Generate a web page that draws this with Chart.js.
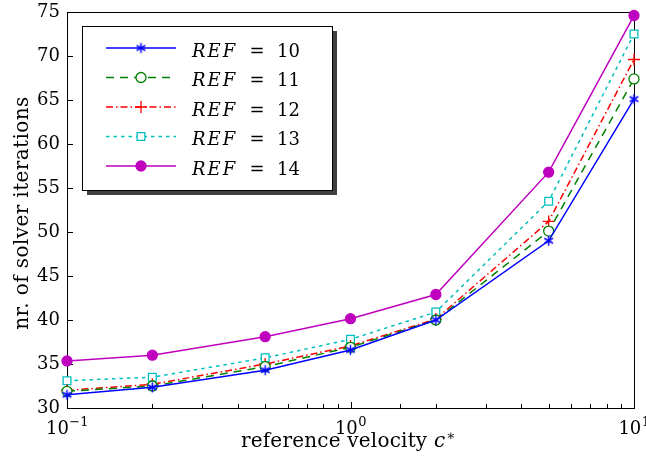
<!DOCTYPE html>
<html>
<head>
<meta charset="utf-8">
<script src="https://cdn.jsdelivr.net/npm/chart.js@4.4.1/dist/chart.umd.min.js"></script>
<style>
  html, body { margin: 0; padding: 0; background: #fff; }
  #wrap { width: 646px; height: 465px; }
</style>
</head>
<body>
<div id="wrap"><canvas id="chart" width="646" height="465"></canvas></div>
<script>
// data
const velocities = [0.1, 0.2, 0.5, 1, 2, 5, 10];
const ref10 = [31.5, 32.35, 34.3, 36.6, 40.0, 49.0, 65.1];
const ref11 = [31.9, 32.5, 34.7, 36.9, 40.0, 50.1, 67.4];
const ref12 = [32.0, 32.7, 35.0, 37.05, 40.1, 51.2, 69.6];
const ref13 = [33.1, 33.5, 35.7, 37.8, 40.9, 53.5, 72.5];
const ref14 = [35.35, 36.0, 38.1, 40.15, 42.9, 56.8, 74.6];
const refLabels = ['10', '11', '12', '13', '14'];
const xMajor = [0.1, 1, 10];
const xExponents = ['\u22121', '0', '1'];

const FONT = '"DejaVu Serif", "Liberation Serif", serif';

// asterisk marker (6 spokes)
function makeAsterisk(color) {
    const c = document.createElement('canvas');
    c.width = 13; c.height = 13;
    const g = c.getContext('2d');
    g.strokeStyle = color;
    g.lineWidth = 1.5;
    for (let i = 0; i < 3; i++) {
        const a = Math.PI / 2 + i * Math.PI / 3;
        g.beginPath();
        g.moveTo(6.5 - 5 * Math.cos(a), 6.5 - 5 * Math.sin(a));
        g.lineTo(6.5 + 5 * Math.cos(a), 6.5 + 5 * Math.sin(a));
        g.stroke();
    }
    return c;
}

function toPoints(values) {
    return values.map((v, i) => ({ x: velocities[i], y: v }));
}

const series = [ref10, ref11, ref12, ref13, ref14];
const styles = [
    { color: '#0000ff', dash: [], point: makeAsterisk('#0000ff'), radius: 5, fill: '#0000ff' },
    { color: '#008000', dash: [8, 6], point: 'circle', radius: 5, fill: '#ffffff' },
    { color: '#ff0000', dash: [7, 3, 1.5, 3], point: 'cross', radius: 6, fill: '#ff0000' },
    { color: '#00bfbf', dash: [3.5, 4], point: 'rect', radius: 5.5, fill: '#ffffff' },
    { color: '#bf00bf', dash: [], point: 'circle', radius: 5, fill: '#bf00bf' }
];

const datasets = series.map((vals, i) => ({
    label: 'REF = ' + refLabels[i],
    data: toPoints(vals),
    borderColor: styles[i].color,
    backgroundColor: styles[i].fill,
    borderWidth: 1.5,
    borderDash: styles[i].dash,
    pointStyle: styles[i].point,
    pointRadius: styles[i].radius,
    pointBorderWidth: 1.3,
    pointBorderColor: styles[i].color,
    pointBackgroundColor: styles[i].fill,
    tension: 0,
    clip: false
}));

function spaced(ctx, px) {
    if ('letterSpacing' in ctx) ctx.letterSpacing = px + 'px';
}

// frame, ticks, tick labels, titles and legend
const decorations = {
    id: 'decorations',
    beforeDatasetsDraw(chart) {
        const { ctx, chartArea: a, scales } = chart;
        ctx.save();
        ctx.strokeStyle = '#000';
        ctx.lineWidth = 1;
        ctx.strokeRect(a.left + 0.5, a.top + 0.5, a.right - a.left, a.bottom - a.top);
        // x ticks (inward)
        scales.x.ticks.forEach(t => {
            const px = Math.round(scales.x.getPixelForValue(t.value)) + 0.5;
            const major = xMajor.some(m => Math.abs(m - t.value) < 1e-9);
            const len = major ? 6 : 4;
            ctx.beginPath();
            ctx.moveTo(px, a.bottom);
            ctx.lineTo(px, a.bottom - len);
            ctx.stroke();
        });
        // y ticks (inward)
        scales.y.ticks.forEach(t => {
            const py = Math.round(scales.y.getPixelForValue(t.value)) + 0.5;
            ctx.beginPath();
            ctx.moveTo(a.left, py);
            ctx.lineTo(a.left + 6, py);
            ctx.stroke();
        });
        ctx.restore();
    },
    afterDraw(chart) {
        const { ctx, chartArea: a, scales } = chart;
        ctx.save();
        ctx.fillStyle = '#000';
        ctx.textBaseline = 'alphabetic';
        ctx.textAlign = 'left';
        // x tick labels 10^n
        xMajor.forEach((v, i) => {
            const px = scales.x.getPixelForValue(v);
            ctx.font = '18px ' + FONT;
            const wb = ctx.measureText('10').width;
            ctx.font = '13px ' + FONT;
            const we = ctx.measureText(xExponents[i]).width;
            const x0 = px - (wb + we) / 2;
            ctx.font = '18px ' + FONT;
            ctx.fillText('10', x0, 434);
            ctx.font = '13px ' + FONT;
            ctx.fillText(xExponents[i], x0 + wb + 0.5, 426);
        });
        // x title
        ctx.save();
        spaced(ctx, 0.2);
        const t1 = 'reference velocity ';
        ctx.font = '20px ' + FONT;
        const w1 = ctx.measureText(t1).width;
        ctx.font = 'italic 20px ' + FONT;
        const w2 = ctx.measureText('c').width;
        ctx.font = '14px ' + FONT;
        const w3 = ctx.measureText('\u2217').width;
        let x = 348 - (w1 + w2 + w3) / 2;
        ctx.font = '20px ' + FONT;
        ctx.fillText(t1, x, 447);
        x += w1;
        ctx.font = 'italic 20px ' + FONT;
        ctx.fillText('c', x, 447);
        x += w2 + 1;
        ctx.font = '14px ' + FONT;
        ctx.fillText('\u2217', x, 440);
        ctx.restore();

        // y title (rotated)
        ctx.save();
        ctx.translate(28, 213);
        ctx.rotate(-Math.PI / 2);
        ctx.textAlign = 'center';
        ctx.font = '20px ' + FONT;
        spaced(ctx, 0.4);
        ctx.fillText('nr. of solver iterations', 0, 0);
        ctx.restore();

        // legend
        const bx = a.left + 15, by = a.top + 14, bw = 250, bh = 164;
        ctx.fillStyle = '#404040';
        ctx.fillRect(bx + 5, by + 5, bw, bh);
        ctx.fillStyle = '#fff';
        ctx.fillRect(bx, by, bw, bh);
        ctx.strokeStyle = '#000';
        ctx.lineWidth = 1;
        ctx.strokeRect(bx + 0.5, by + 0.5, bw, bh);
        chart.data.datasets.forEach((ds, i) => {
            const ry = by + 22 + i * 29.5;
            const lx0 = bx + 24, lx1 = bx + 94;
            ctx.save();
            ctx.strokeStyle = ds.borderColor;
            ctx.lineWidth = ds.borderWidth;
            ctx.setLineDash(ds.borderDash);
            ctx.beginPath();
            ctx.moveTo(lx0, ry);
            ctx.lineTo(lx1, ry);
            ctx.stroke();
            ctx.setLineDash([]);
            ctx.fillStyle = ds.pointBackgroundColor;
            ctx.strokeStyle = ds.pointBorderColor;
            ctx.lineWidth = ds.pointBorderWidth;
            Chart.helpers.drawPoint(ctx, {
                pointStyle: ds.pointStyle, radius: ds.pointRadius,
                borderWidth: ds.pointBorderWidth, rotation: 0
            }, (lx0 + lx1) / 2, ry);
            ctx.restore();
            // label: italic REF, upright "= n"
            ctx.fillStyle = '#000';
            const ty = ry + 8.5;
            ctx.save();
            ctx.font = 'italic 18px ' + FONT;
            spaced(ctx, 2);
            ctx.textAlign = 'left';
            ctx.fillText('REF', bx + 110, ty);
            ctx.restore();
            ctx.font = '18px ' + FONT;
            ctx.textAlign = 'center';
            ctx.fillText('=', bx + 175, ty);
            ctx.textAlign = 'left';
            ctx.fillText(refLabels[i], bx + 195, ty);
        });
        ctx.restore();
    }
};

new Chart(document.getElementById('chart'), {
    type: 'line',
    data: { datasets: datasets },
    options: {
        responsive: false,
        animation: false,
        devicePixelRatio: 1,
        layout: { padding: { top: 12, right: 12, left: 0, bottom: 0 } },
        plugins: { legend: { display: false }, tooltip: { enabled: false } },
        scales: {
            x: {
                type: 'logarithmic',
                min: 0.1,
                max: 10,
                grid: { display: false, drawTicks: false },
                border: { display: false },
                ticks: { display: false },
                afterFit(scale) {
                    scale.height = 57;
                    scale.paddingLeft = 0;
                    scale.paddingRight = 0;
                }
            },
            y: {
                min: 30,
                max: 75,
                grid: { display: false, drawTicks: false },
                border: { display: false },
                ticks: {
                    stepSize: 5,
                    padding: 7,
                    color: '#000',
                    font: { family: FONT, size: 18 }
                },
                title: { display: false },
                afterFit(scale) {
                    scale.width = 67;
                    scale.paddingTop = 0;
                    scale.paddingBottom = 0;
                }
            }
        }
    },
    plugins: [decorations]
});
</script>
</body>
</html>
